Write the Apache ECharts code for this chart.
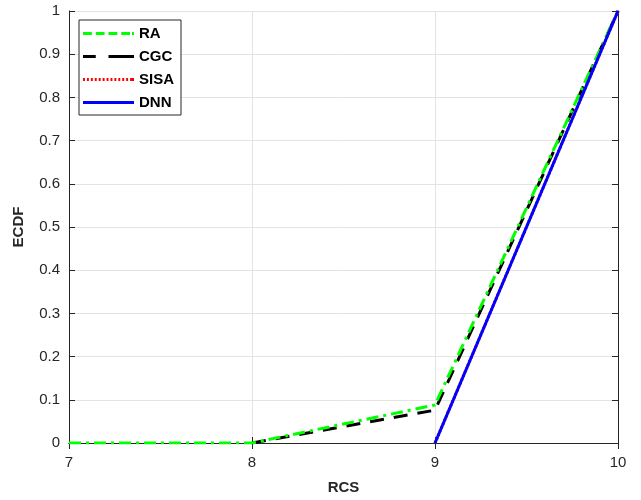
<!DOCTYPE html>
<html>
<head>
<meta charset="utf-8">
<script src="https://cdn.jsdelivr.net/npm/echarts@6/dist/echarts.min.js"></script>
<style>
  html, body { margin: 0; padding: 0; background: #fff; }
  #chart_main { width: 641px; height: 500px; }
</style>
</head>
<body>
<div id="chart_main"></div>
<script>
var raData = [[7, 0], [8, 0], [9, 0.088], [10, 1]];
var cgcData = [[8, 0], [9, 0.076], [10, 1]];
var sisaData = [[9, 0], [10, 1]];
var dnnData = [[9, 0], [10, 1]];
var seriesNames = ['RA', 'CGC', 'SISA', 'DNN'];

var myChart = echarts.init(document.getElementById('chart_main'));
var axisColor = '#262626';
var font = 'Liberation Sans, Arial, sans-serif';

// legend icons: dashes built as filled rects in a 52x3 box
function dashIcon(segs) {
    var p = '';
    segs.forEach(function (s) {
        p += 'M' + s[0] + ',0H' + s[1] + 'V3H' + s[0] + 'Z';
    });
    return 'path://' + p;
}
function dotSegs() {
    var s = [];
    for (var x = 0; x < 52; x += 4) s.push([x, Math.min(x + 2, 52)]);
    s.push([50, 52]);
    return s;
}

function lineSeries(name, data, color, type, z) {
    return {
        name: name,
        type: 'line',
        data: data,
        showSymbol: false,
        symbol: 'none',
        z: z,
        lineStyle: { color: color, width: 3, type: type },
        itemStyle: { color: color }
    };
}

var option = {
    animation: false,
    grid: { left: 69, right: 23, top: 11, bottom: 56 },
    legend: {
        left: 79,
        top: 20,
        orient: 'vertical',
        data: [
            { name: seriesNames[0], icon: dashIcon([[0, 9], [13, 22], [26, 35], [39, 48], [50, 52]]) },
            { name: seriesNames[1], icon: dashIcon([[0, 13], [26, 52]]) },
            { name: seriesNames[2], icon: dashIcon(dotSegs()) },
            { name: seriesNames[3], icon: dashIcon([[0, 52]]) }
        ],
        itemWidth: 51,
        itemHeight: 3,
        itemGap: 8,
        padding: [6, 7, 5, 4],
        borderColor: axisColor,
        borderWidth: 1,
        backgroundColor: '#fff',
        textStyle: { fontFamily: font, fontWeight: 'bold', fontSize: 15, color: '#000' }
    },
    xAxis: [{
        type: 'value',
        min: 7, max: 10, interval: 1,
        name: 'RCS',
        nameLocation: 'middle',
        nameGap: 37,
        nameTextStyle: { fontFamily: font, fontWeight: 'bold', fontSize: 15, color: axisColor },
        axisLine: { lineStyle: { color: axisColor } },
        axisTick: { inside: true, length: 6, lineStyle: { color: axisColor } },
        axisLabel: { fontFamily: font, fontSize: 15, color: axisColor, margin: 12 },
        splitLine: { show: true, lineStyle: { color: '#e3e3e3' } }
    }, {
        type: 'value', position: 'top',
        min: 7, max: 10, interval: 1,
        axisLine: { show: true, lineStyle: { color: axisColor } },
        axisTick: { inside: true, length: 6, lineStyle: { color: axisColor } },
        axisLabel: { show: false },
        splitLine: { show: false }
    }],
    yAxis: [{
        type: 'value',
        min: 0, max: 1, interval: 0.1,
        name: 'ECDF',
        nameLocation: 'middle',
        nameGap: 43,
        nameTextStyle: { fontFamily: font, fontWeight: 'bold', fontSize: 15, color: axisColor },
        axisLine: { show: true, lineStyle: { color: axisColor } },
        axisTick: { show: true, inside: true, length: 6, lineStyle: { color: axisColor } },
        axisLabel: {
            fontFamily: font, fontSize: 15, color: axisColor, margin: 9,
            formatter: function (v) { return Math.round(v * 10) / 10 + ''; }
        },
        splitLine: { show: true, lineStyle: { color: '#e3e3e3' } }
    }, {
        type: 'value', position: 'right',
        min: 0, max: 1, interval: 0.1,
        axisLine: { show: true, lineStyle: { color: axisColor } },
        axisTick: { show: true, inside: true, length: 6, lineStyle: { color: axisColor } },
        axisLabel: { show: false },
        splitLine: { show: false }
    }],
    series: [
        lineSeries('RA', raData, '#00ff00', [12, 5, 3, 5], 4),
        lineSeries('CGC', cgcData, '#000000', [14, 10], 3),
        lineSeries('SISA', sisaData, '#ff0000', [2, 2], 5),
        lineSeries('DNN', dnnData, '#0000ff', 'solid', 6)
    ]
};

myChart.setOption(option);
</script>
</body>
</html>
